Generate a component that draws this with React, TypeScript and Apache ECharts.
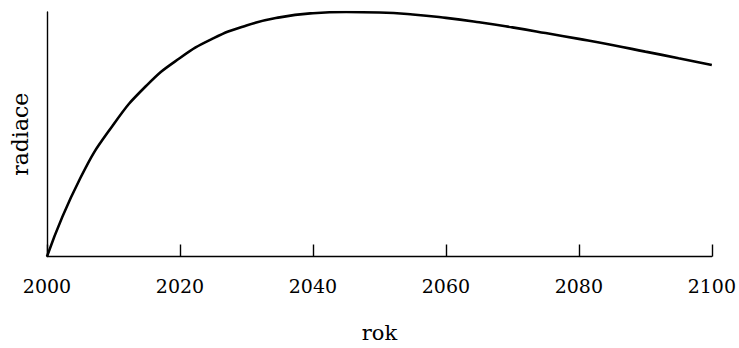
import React, { useEffect, useRef } from "react";
import * as echarts from "echarts";

const years = [2000, 2005, 2010, 2015, 2020, 2025, 2030, 2035, 2040, 2045, 2050, 2055, 2060, 2065, 2070, 2075, 2080, 2085, 2090, 2095, 2100];
const radiace = [0, 0.32, 0.54, 0.7, 0.812, 0.892, 0.945, 0.978, 0.995, 1.0, 0.998, 0.99, 0.976, 0.958, 0.937, 0.914, 0.89, 0.865, 0.838, 0.811, 0.783];
const xTicks = [2000, 2020, 2040, 2060, 2080, 2100];
const xName = "rok";
const yName = "radiace";

const FONT = "DejaVu Serif";

export default function App() {
  const ref = useRef<HTMLDivElement>(null);
  useEffect(() => {
    if (!ref.current) return;
    const chart = echarts.init(ref.current, undefined, { renderer: "svg" });
    chart.setOption({
      animation: false,
      grid: { left: 47, right: 25, top: 12, bottom: 86, containLabel: false },
      xAxis: {
        type: "value",
        min: xTicks[0],
        max: xTicks[xTicks.length - 1],
        interval: 20,
        name: xName,
        nameLocation: "middle",
        nameGap: 65.5,
        nameTextStyle: { fontFamily: FONT, fontSize: 21, color: "#000" },
        axisLine: { show: true, lineStyle: { color: "#000", width: 1.4 } },
        axisTick: { show: true, inside: true, length: 12, lineStyle: { color: "#000", width: 1.4 } },
        axisLabel: {
          margin: 20,
          fontFamily: FONT,
          fontSize: 19,
          color: "#000",
          formatter: (v: number) => String(v),
        },
        splitLine: { show: false },
      },
      yAxis: {
        type: "value",
        min: 0,
        max: 1,
        name: yName,
        nameLocation: "middle",
        nameGap: 16,
        nameRotate: 90,
        nameTextStyle: { fontFamily: FONT, fontSize: 22, color: "#000" },
        axisLine: { show: true, lineStyle: { color: "#000", width: 1.4 } },
        axisTick: { show: false },
        axisLabel: { show: false },
        splitLine: { show: false },
      },
      series: [
        {
          type: "line",
          data: years.map((y, i) => [y, radiace[i]]),
          smooth: 0.5,
          showSymbol: false,
          lineStyle: { color: "#000", width: 2.6 },
        },
      ],
    });
    return () => chart.dispose();
  }, []);
  return <div ref={ref} style={{ width: 739, height: 348, position: "absolute", left: 0, top: 0 }} />;
}
